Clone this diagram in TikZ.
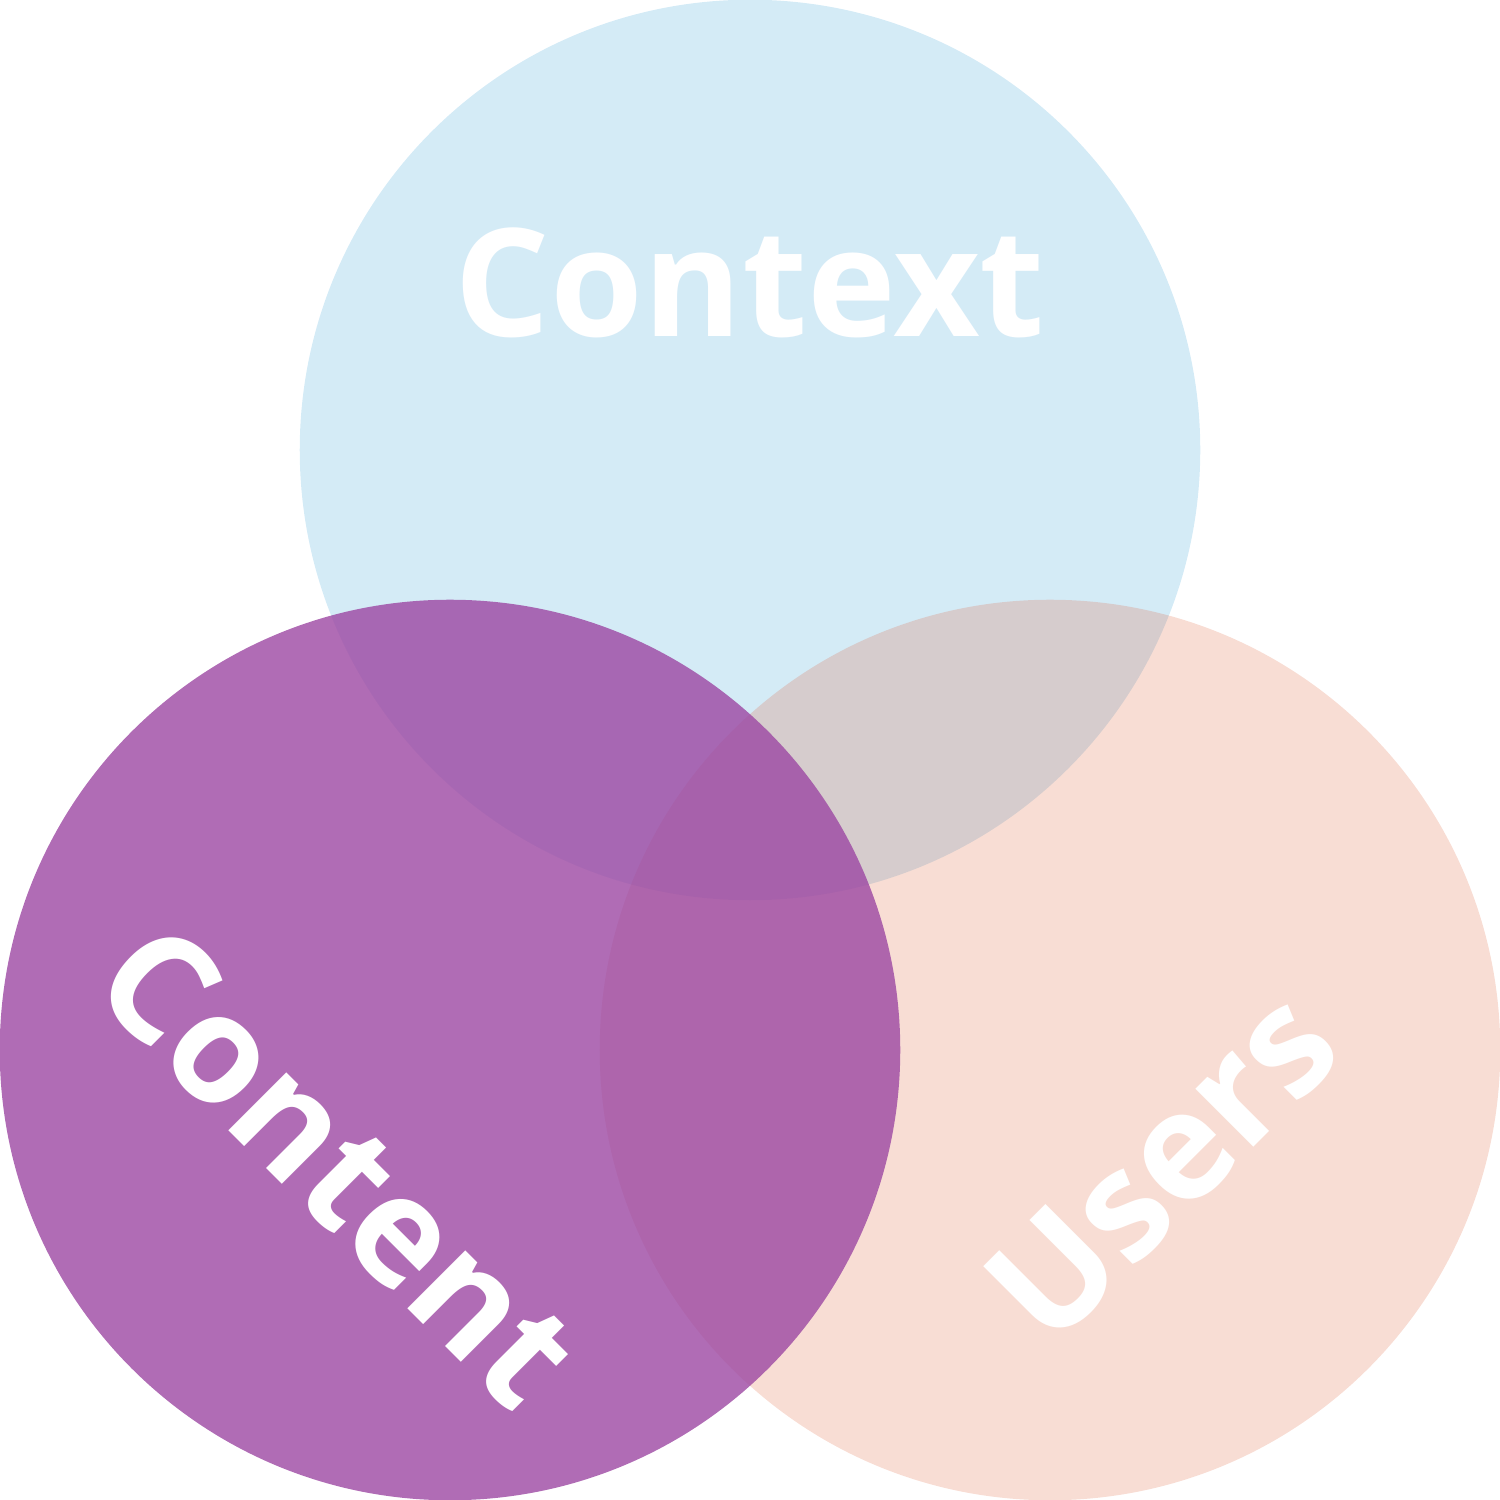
\documentclass[tikz,border=0pt]{standalone}
\usepackage{fontspec}
\setmainfont{Open Sans}
\newfontfamily\osbold{Open Sans Bold}
\definecolor{ctxblue}{HTML}{2999D4}
\definecolor{usrorange}{HTML}{DC5528}
\definecolor{cntpurple}{HTML}{9C47A2}
\begin{document}
\begin{tikzpicture}[x=0.01cm,y=0.01cm,
  venn/.style={circle, minimum size=9cm, inner sep=0pt, draw=none},
  label/.style={text=white, inner sep=0pt, anchor=center, font=\fontsize{42.7}{48}\osbold}]
\useasboundingbox (0,0) rectangle (1500,1500);
\node[venn, fill=ctxblue, fill opacity=0.2] (context) at (750,1050) {};
\node[venn, fill=usrorange, fill opacity=0.2] (users) at (1050,450) {};
\node[venn, fill=cntpurple, fill opacity=0.8] (content) at (450,450) {};
\node[label] (tctx) at (750,1217) {Context};
\node[label, rotate=-45] (tcnt) at (339,335) {Content};
\node[label, rotate=45] (tusr) at (1161,334) {Users};
\end{tikzpicture}
\end{document}
